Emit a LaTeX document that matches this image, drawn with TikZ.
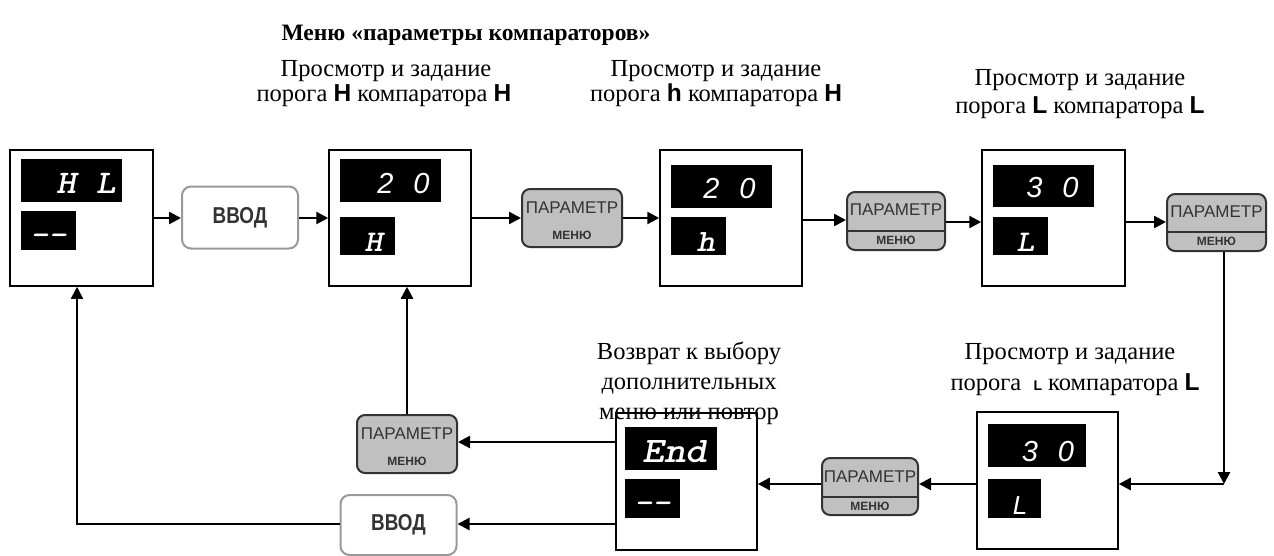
\documentclass[tikz,border=0pt]{standalone}
\usepackage{fontspec}
\usepackage{graphicx}
\setmainfont{Liberation Serif}
\setsansfont{Liberation Sans}
\usetikzlibrary{arrows.meta}
\definecolor{pgray}{HTML}{C0C0C0}
\definecolor{dgray}{HTML}{333333}
\definecolor{bgray}{HTML}{999999}
\tikzset{
  dispbox/.style={draw=black,line width=1.5pt,minimum width=#1,minimum height=136pt,inner sep=0pt},
  param/.style={draw=dgray,fill=pgray,line width=2pt,rounded corners=8pt,minimum width=100pt,minimum height=58pt,inner sep=0pt},
  vvod/.style={draw=bgray,fill=white,line width=2pt,rounded corners=9pt,minimum width=116pt,minimum height=62pt,inner sep=0pt,
    font=\fontsize{23}{24}\selectfont\sffamily\bfseries,text=dgray},
  ptxt/.style={font=\fontsize{17}{18}\selectfont\sffamily,text=dgray,inner sep=0pt},
  mtxt/.style={font=\fontsize{12}{13}\selectfont\sffamily\bfseries,text=dgray,inner sep=0pt},
  seg/.style={text=white,inner sep=0pt,anchor=base},
  mono/.style={seg,font=\fontsize{#1}{#1}\selectfont\ttfamily\bfseries\slshape},
  digs/.style={seg,font=\fontsize{29}{29}\selectfont\sffamily\itshape},
  lbl/.style={inner sep=0pt,anchor=base,font=\fontsize{24.5}{26}\selectfont},
  arr/.style={line width=2.5pt,-{Triangle[length=12pt,width=12pt]}},
  thinarr/.style={line width=1.5pt,-{Triangle[length=12pt,width=12pt]}},
}
\newcommand{\sbf}[1]{{\sffamily\bfseries #1}}
\newcommand{\wide}[1]{\scalebox{1.15}[1]{#1}}
\newcommand{\narrow}[1]{\scalebox{0.82}[1]{#1}}
\begin{document}
\begin{tikzpicture}[x=1pt,y=-1pt]
\useasboundingbox (0,0) rectangle (1274,555);

% titles and labels
\node[lbl,font=\fontsize{23.5}{26}\selectfont\bfseries] (title) at (466,40) {Меню «параметры компараторов»};
\node[lbl] (l1a) at (386,76) {Просмотр и задание};
\node[lbl] (l1b) at (384,101) {порога \sbf{H} компаратора \sbf{H}};
\node[lbl] (l2a) at (716,76) {Просмотр и задание};
\node[lbl] (l2b) at (716,101) {порога \sbf{h} компаратора \sbf{H}};
\node[lbl] (l3a) at (1080,85) {Просмотр и задание};
\node[lbl] (l3b) at (1080,113) {порога \sbf{L} компаратора \sbf{L}};
\node[lbl] (l4a) at (1070,359) {Просмотр и задание};
\node[lbl] (l4b) at (1075,390) {порога \ {\fontsize{14}{14}\selectfont\sbf{L}} компаратора \sbf{L}};
\node[lbl] (l5a) at (689,359) {Возврат к выбору};
\node[lbl] (l5b) at (689,389) {дополнительных};
\node[lbl] (l5c) at (689,419) {меню или повтор};

% display boxes
\node[dispbox=143pt] (b1) at (81.5,218) {};
\node[dispbox=142pt] (b2) at (400,218) {};
\node[dispbox=142pt] (b3) at (731,218) {};
\node[dispbox=143pt] (b4) at (1053.5,218) {};
\node[dispbox=141pt,minimum height=137pt] (b5) at (1047.5,480.5) {};
\node[dispbox=141pt,minimum height=137pt] (be) at (686.5,481.5) {};

% black displays
\fill (21,159) rectangle (122,202);
\fill (21,211) rectangle (76,250);
\fill (340,159) rectangle (441,202);
\fill (340,217) rectangle (395,255);
\fill (671,165) rectangle (772,208);
\fill (671,217) rectangle (726,255);
\fill (993,165) rectangle (1094,207);
\fill (993,217) rectangle (1048,255);
\fill (988,424) rectangle (1086,467);
\fill (988,479) rectangle (1041,518);
\fill (625,427) rectangle (717,470);
\fill (625,479) rectangle (680,518);

% display texts
\node[mono=33] (t1) at (86,193) {\wide{H L}};
\node[mono=30] (d1) at (48.5,244) {\wide{--}};
\node[digs] (t2) at (403.5,193) {2\hspace{20pt}0};
\node[mono=30] (d2) at (373.5,251) {\wide{H}};
\node[digs] (t3) at (729.5,198) {2\hspace{20pt}0};
\node[mono=31] (d3) at (706,251) {\wide{h}};
\node[digs] (t4) at (1052.5,197) {3\hspace{20pt}0};
\node[mono=30] (d4) at (1025.5,251) {\wide{L}};
\node[digs] (t5) at (1048,461) {3\hspace{20pt}0};
\node[seg,font=\fontsize{26}{26}\selectfont\sffamily\itshape] (d5) at (1020,514) {L};
\node[mono=36] (te) at (675,462) {\wide{End}};
\node[mono=30] (de) at (652.5,512) {\wide{--}};

% buttons
\node[vvod] (v1) at (240,217.5) {\narrow{ВВОД}};
\node[vvod,minimum height=60pt] (v2) at (398.5,525) {\narrow{ВВОД}};

\node[param] (p1) at (572,218) {};
\node[ptxt] at (572,208) {ПАРАМЕТР};
\node[mtxt] at (572,235) {МЕНЮ};

\node[param] (p5) at (407,444) {};
\node[ptxt] at (407,434) {ПАРАМЕТР};
\node[mtxt] at (407,461) {МЕНЮ};

\node[param,minimum width=98pt] (p2) at (896,221) {};
\draw[dgray,line width=1.5pt] (p2.west |- 0,231) -- (p2.east |- 0,231);
\node[ptxt] at (896,210) {ПАРАМЕТР};
\node[mtxt] at (896,240) {МЕНЮ};

\node[param,minimum width=99pt,minimum height=57pt] (p3) at (1216.5,222.5) {};
\draw[dgray,line width=1.5pt] (p3.west |- 0,232) -- (p3.east |- 0,232);
\node[ptxt] at (1216.5,212) {ПАРАМЕТР};
\node[mtxt] at (1216.5,241) {МЕНЮ};

\node[param,minimum width=96pt,minimum height=57pt] (p4) at (870,486.5) {};
\draw[dgray,line width=1.5pt] (p4.west |- 0,497) -- (p4.east |- 0,497);
\node[ptxt] at (870,477) {ПАРАМЕТР};
\node[mtxt] at (870,506) {МЕНЮ};

% connectors
\draw[arr] (b1.east |- 0,218) -- (v1.west |- 0,218);
\draw[arr] (v1.east |- 0,218) -- (b2.west |- 0,218);
\draw[arr] (b2.east |- 0,218) -- (p1.west |- 0,218);
\draw[arr] (p1.east |- 0,218) -- (b3.west |- 0,218);
\draw[arr] (b3.east |- 0,220) -- (p2.west |- 0,220);
\draw[arr] (p2.east |- 0,222) -- (b4.west |- 0,222);
\draw[arr] (b4.east |- 0,222) -- (p3.west |- 0,222);
\coordinate (c1) at (1224,484);
\draw[arr] (p3.south -| c1) -- (c1);
\draw[arr] (c1) -- (b5.east |- c1);
\draw[arr] (b5.west |- 0,484) -- (p4.east |- 0,484);
\draw[arr] (p4.west |- 0,484) -- (be.east |- 0,484);
\draw[arr] (be.west |- 0,442) -- (p5.east |- 0,442);
\draw[arr] (be.west |- 0,524) -- (v2.east |- 0,524);
\draw[arr] (p5.north) -- (b2.south -| p5.north);
\coordinate (c2) at (77,524);
\draw[thinarr] (v2.west |- c2) -- (c2) -- (b1.south -| c2);
\end{tikzpicture}
\end{document}
